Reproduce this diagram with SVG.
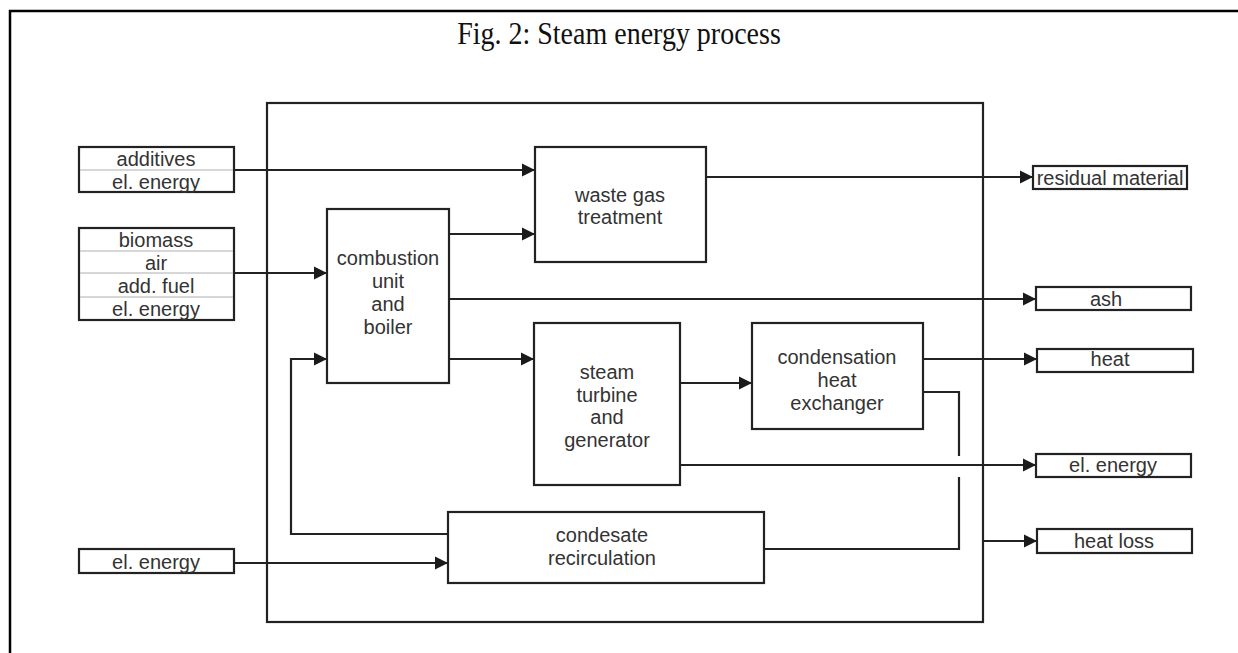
<svg xmlns="http://www.w3.org/2000/svg" width="1238" height="653" viewBox="0 0 1238 653">
<defs>
<marker id="arr" markerUnits="userSpaceOnUse" markerWidth="14" markerHeight="14" viewBox="0 0 14 14" refX="13" refY="7" orient="auto">
<path d="M0,0.5 L13,7 L0,13.5 Z" fill="#1a1a1a"/>
</marker>
<style>
.box{fill:#fff;stroke:#222;stroke-width:2.2}
.div{stroke:#b0b0b0;stroke-width:1.2}
.ln{fill:none;stroke:#222;stroke-width:2.2}
.ar{fill:none;stroke:#222;stroke-width:2.2;marker-end:url(#arr)}
.t{font-family:"Liberation Sans",Arial,sans-serif;font-size:20px;fill:#333;text-anchor:middle}
</style>
</defs>
<rect x="0" y="0" width="1238" height="653" fill="#fff"/>
<path d="M10,653 V11 H1238" fill="none" stroke="#000" stroke-width="2.5"/>
<text transform="translate(619,44) scale(1,1.1)" x="0" y="0" font-family="'Liberation Serif','Times New Roman',serif" font-size="28" text-anchor="middle" fill="#111">Fig. 2: Steam energy process</text>

<g id="system"><rect class="box" x="267" y="103" width="716" height="519" fill="none"/></g>

<g id="connectors">
<line class="ar" x1="234" y1="170" x2="535" y2="170"/>
<line class="ar" x1="234" y1="273" x2="327" y2="273"/>
<line class="ar" x1="449" y1="234" x2="535" y2="234"/>
<line class="ar" x1="706" y1="177" x2="1033" y2="177"/>
<line class="ar" x1="449" y1="299" x2="1036" y2="299"/>
<line class="ar" x1="449" y1="359" x2="534" y2="359"/>
<line class="ar" x1="680" y1="383" x2="752" y2="383"/>
<line class="ar" x1="923" y1="359" x2="1037" y2="359"/>
<line class="ar" x1="680" y1="465" x2="1036" y2="465"/>
<line class="ar" x1="983" y1="541" x2="1037" y2="541"/>
<line class="ar" x1="234" y1="563" x2="448" y2="563"/>
<path class="ar" d="M448,534 H291 V359 H327"/>
<path class="ln" d="M923,392 H959 V456"/>
<path class="ln" d="M959,477 V549 H764"/>
</g>

<g id="in-additives">
<rect class="box" x="79" y="147" width="155" height="45"/>
<line class="div" x1="80" y1="170" x2="233" y2="170"/>
<text class="t" x="156" y="166">additives</text>
<text class="t" x="156" y="189">el. energy</text>
</g>

<g id="in-fuel">
<rect class="box" x="79" y="228" width="155" height="92"/>
<line class="div" x1="80" y1="251" x2="233" y2="251"/>
<line class="div" x1="80" y1="273" x2="233" y2="273"/>
<line class="div" x1="80" y1="297" x2="233" y2="297"/>
<text class="t" x="156" y="247">biomass</text>
<text class="t" x="156" y="270">air</text>
<text class="t" x="156" y="293">add. fuel</text>
<text class="t" x="156" y="316">el. energy</text>
</g>

<g id="in-el">
<rect class="box" x="79" y="549" width="155" height="24"/>
<text class="t" x="156" y="569">el. energy</text>
</g>

<g id="combustion">
<rect class="box" x="327" y="209" width="122" height="174"/>
<text class="t" x="388" y="265">combustion</text>
<text class="t" x="388" y="288">unit</text>
<text class="t" x="388" y="311">and</text>
<text class="t" x="388" y="334">boiler</text>
</g>

<g id="wastegas">
<rect class="box" x="535" y="147" width="171" height="115"/>
<text class="t" x="620" y="202">waste gas</text>
<text class="t" x="620" y="224">treatment</text>
</g>

<g id="turbine">
<rect class="box" x="534" y="323" width="146" height="162"/>
<text class="t" x="607" y="379">steam</text>
<text class="t" x="607" y="402">turbine</text>
<text class="t" x="607" y="424">and</text>
<text class="t" x="607" y="447">generator</text>
</g>

<g id="heatex">
<rect class="box" x="752" y="323" width="171" height="106"/>
<text class="t" x="837" y="364">condensation</text>
<text class="t" x="837" y="387">heat</text>
<text class="t" x="837" y="410">exchanger</text>
</g>

<g id="condensate">
<rect class="box" x="448" y="512" width="316" height="71"/>
<text class="t" x="602" y="542">condesate</text>
<text class="t" x="602" y="565">recirculation</text>
</g>

<g id="out-residual">
<rect class="box" x="1033" y="166" width="154" height="23"/>
<text class="t" x="1110" y="185">residual material</text>
</g>
<g id="out-ash">
<rect class="box" x="1036" y="287" width="155" height="23"/>
<text class="t" x="1106" y="306">ash</text>
</g>
<g id="out-heat">
<rect class="box" x="1037" y="349" width="156" height="23"/>
<text class="t" x="1110" y="366">heat</text>
</g>
<g id="out-el">
<rect class="box" x="1036" y="454" width="155" height="23"/>
<text class="t" x="1113" y="472">el. energy</text>
</g>
<g id="out-heatloss">
<rect class="box" x="1037" y="529" width="155" height="24"/>
<text class="t" x="1114" y="548">heat loss</text>
</g>
</svg>
